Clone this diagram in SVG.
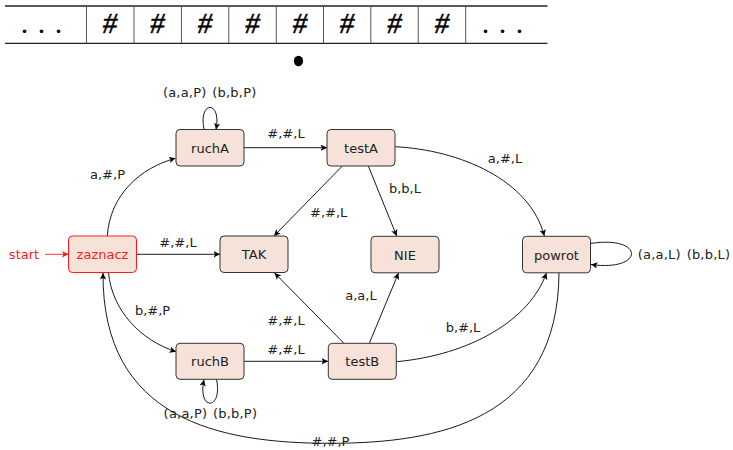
<svg xmlns="http://www.w3.org/2000/svg" width="733" height="450" viewBox="0 0 733 450">
<defs>
<marker id="arr" markerWidth="9" markerHeight="9" refX="6.5" refY="3.2" orient="auto" markerUnits="userSpaceOnUse">
<path d="M0,0 L6.5,3.2 L0,6.4 L1.6,3.2 z" fill="#000"/>
</marker>
<marker id="arrR" markerWidth="9" markerHeight="9" refX="6.5" refY="3.2" orient="auto" markerUnits="userSpaceOnUse">
<path d="M0,0 L6.5,3.2 L0,6.4 L1.6,3.2 z" fill="#ff1a1a"/>
</marker>
</defs>
<style>
.node rect{fill:#f6e2d8;stroke:#333;stroke-width:1}
.node text{font-family:"DejaVu Sans",sans-serif;font-size:13px;fill:#222;text-anchor:middle}
.init rect{stroke:#ff1a1a}
.init text{fill:#ff1a1a}
.edge{fill:none;stroke:#000;stroke-width:0.9;marker-end:url(#arr)}
.lbl{font-family:"DejaVu Sans",sans-serif;font-size:13px;fill:#222;text-anchor:middle}
.loop{word-spacing:1.5px;letter-spacing:0.2px}
.tape{stroke:#222;stroke-width:1.3}
.cell{stroke:#555;stroke-width:1}
.hash{font-family:"Liberation Serif",serif;font-size:29px;font-style:italic;fill:#000;stroke:#000;stroke-width:0.5;text-anchor:middle}
.dots{font-family:"Liberation Serif",serif;font-size:30px;fill:#000;text-anchor:middle;letter-spacing:1px}
</style>
<rect width="733" height="450" fill="#fff"/>
<g id="tape">
<line class="tape" x1="5" y1="6" x2="547.5" y2="6"/>
<line class="tape" x1="5" y1="43.3" x2="547.5" y2="43.3"/>
<g class="cell">
<line x1="86.5" y1="6" x2="86.5" y2="43.3"/>
<line x1="134" y1="6" x2="134" y2="43.3"/>
<line x1="181.4" y1="6" x2="181.4" y2="43.3"/>
<line x1="228.8" y1="6" x2="228.8" y2="43.3"/>
<line x1="276.3" y1="6" x2="276.3" y2="43.3"/>
<line x1="323.5" y1="6" x2="323.5" y2="43.3"/>
<line x1="370.8" y1="6" x2="370.8" y2="43.3"/>
<line x1="418.2" y1="6" x2="418.2" y2="43.3"/>
<line x1="465.7" y1="6" x2="465.7" y2="43.3"/>
</g>
<text class="dots" x="42" y="33">. . .</text>
<text class="dots" x="503" y="33">. . .</text>
<text class="hash" x="110" y="33">#</text>
<text class="hash" x="157.5" y="33">#</text>
<text class="hash" x="205" y="33">#</text>
<text class="hash" x="252.5" y="33">#</text>
<text class="hash" x="300" y="33">#</text>
<text class="hash" x="347" y="33">#</text>
<text class="hash" x="394.5" y="33">#</text>
<text class="hash" x="442" y="33">#</text>
<ellipse cx="298.5" cy="61" rx="4.6" ry="5.3" fill="#000"/>
</g>
<g id="connectors">
<line x1="45" y1="254.3" x2="68.5" y2="254.3" stroke="#ff1a1a" stroke-width="0.9" marker-end="url(#arrR)"/>
<path class="edge" d="M107.3,236 C110,195 140,168 175.5,158.3"/>
<path class="edge" d="M204,129.5 C198,100 222,100 216,129.5"/>
<line class="edge" x1="244" y1="147.7" x2="327" y2="147.7"/>
<line class="edge" x1="342.3" y1="166" x2="274" y2="236"/>
<line class="edge" x1="368.3" y1="166" x2="396.7" y2="236"/>
<path class="edge" d="M395,146.7 C460,150 530,180 544.3,236"/>
<line class="edge" x1="136.7" y1="254.3" x2="220" y2="254.3"/>
<path class="edge" d="M590.7,243.5 C645,235 645,272 591,264.5"/>
<path class="edge" d="M108.5,272.7 C112,310 140,340 176,351.7"/>
<path class="edge" d="M216.5,379.3 C223,411 197,411 204,379.8"/>
<line class="edge" x1="244" y1="361.3" x2="328" y2="361.3"/>
<line class="edge" x1="343.6" y1="343" x2="274.6" y2="273"/>
<line class="edge" x1="369.4" y1="343" x2="398.5" y2="273"/>
<path class="edge" d="M396.3,361.7 C470,355 530,320 546.4,273"/>
<path class="edge" d="M559,272.7 C558,420 440,443.3 330,443.3 C220,443.3 102,420 103,273"/>
</g>
<g id="labels">
<text x="24" y="259" font-family="DejaVu Sans,sans-serif" font-size="13" fill="#ff1a1a" text-anchor="middle">start</text>
<text class="lbl loop" x="209.7" y="97">(a,a,P) (b,b,P)</text>
<text class="lbl" x="286" y="138">#,#,L</text>
<text class="lbl" x="107.5" y="179">a,#,P</text>
<text class="lbl" x="178" y="247">#,#,L</text>
<text class="lbl" x="505" y="162.5">a,#,L</text>
<text class="lbl" x="405" y="193">b,b,L</text>
<text class="lbl" x="328.7" y="217">#,#,L</text>
<text class="lbl loop" x="684" y="259">(a,a,L) (b,b,L)</text>
<text class="lbl" x="361" y="300">a,a,L</text>
<text class="lbl" x="152.5" y="315">b,#,P</text>
<text class="lbl" x="286" y="325">#,#,L</text>
<text class="lbl" x="286" y="354">#,#,L</text>
<text class="lbl" x="463" y="332">b,#,L</text>
<text class="lbl loop" x="210.4" y="418">(a,a,P) (b,b,P)</text>
<text class="lbl" x="330.5" y="446">#,#,P</text>
</g>
<g id="zaznacz" class="node init"><rect x="68.5" y="236" width="68" height="36.5" rx="4"/><text x="102.5" y="259.3">zaznacz</text></g>
<g id="ruchA" class="node"><rect x="176" y="129.5" width="68" height="36.5" rx="4"/><text x="210" y="152.7">ruchA</text></g>
<g id="testA" class="node"><rect x="327" y="129.5" width="68" height="36.5" rx="4"/><text x="361" y="152.7">testA</text></g>
<g id="TAK" class="node"><rect x="220" y="236" width="68" height="36.5" rx="4"/><text x="254" y="259.3">TAK</text></g>
<g id="NIE" class="node"><rect x="371" y="236.3" width="68" height="36.5" rx="4"/><text x="405" y="259.5">NIE</text></g>
<g id="powrot" class="node"><rect x="522.5" y="236.3" width="68" height="36.5" rx="4"/><text x="556.5" y="259.5">powrot</text></g>
<g id="ruchB" class="node"><rect x="176" y="343.3" width="68" height="36" rx="4"/><text x="210" y="366.3">ruchB</text></g>
<g id="testB" class="node"><rect x="328.3" y="343.3" width="68" height="36" rx="4"/><text x="362.3" y="366.3">testB</text></g>
</svg>
